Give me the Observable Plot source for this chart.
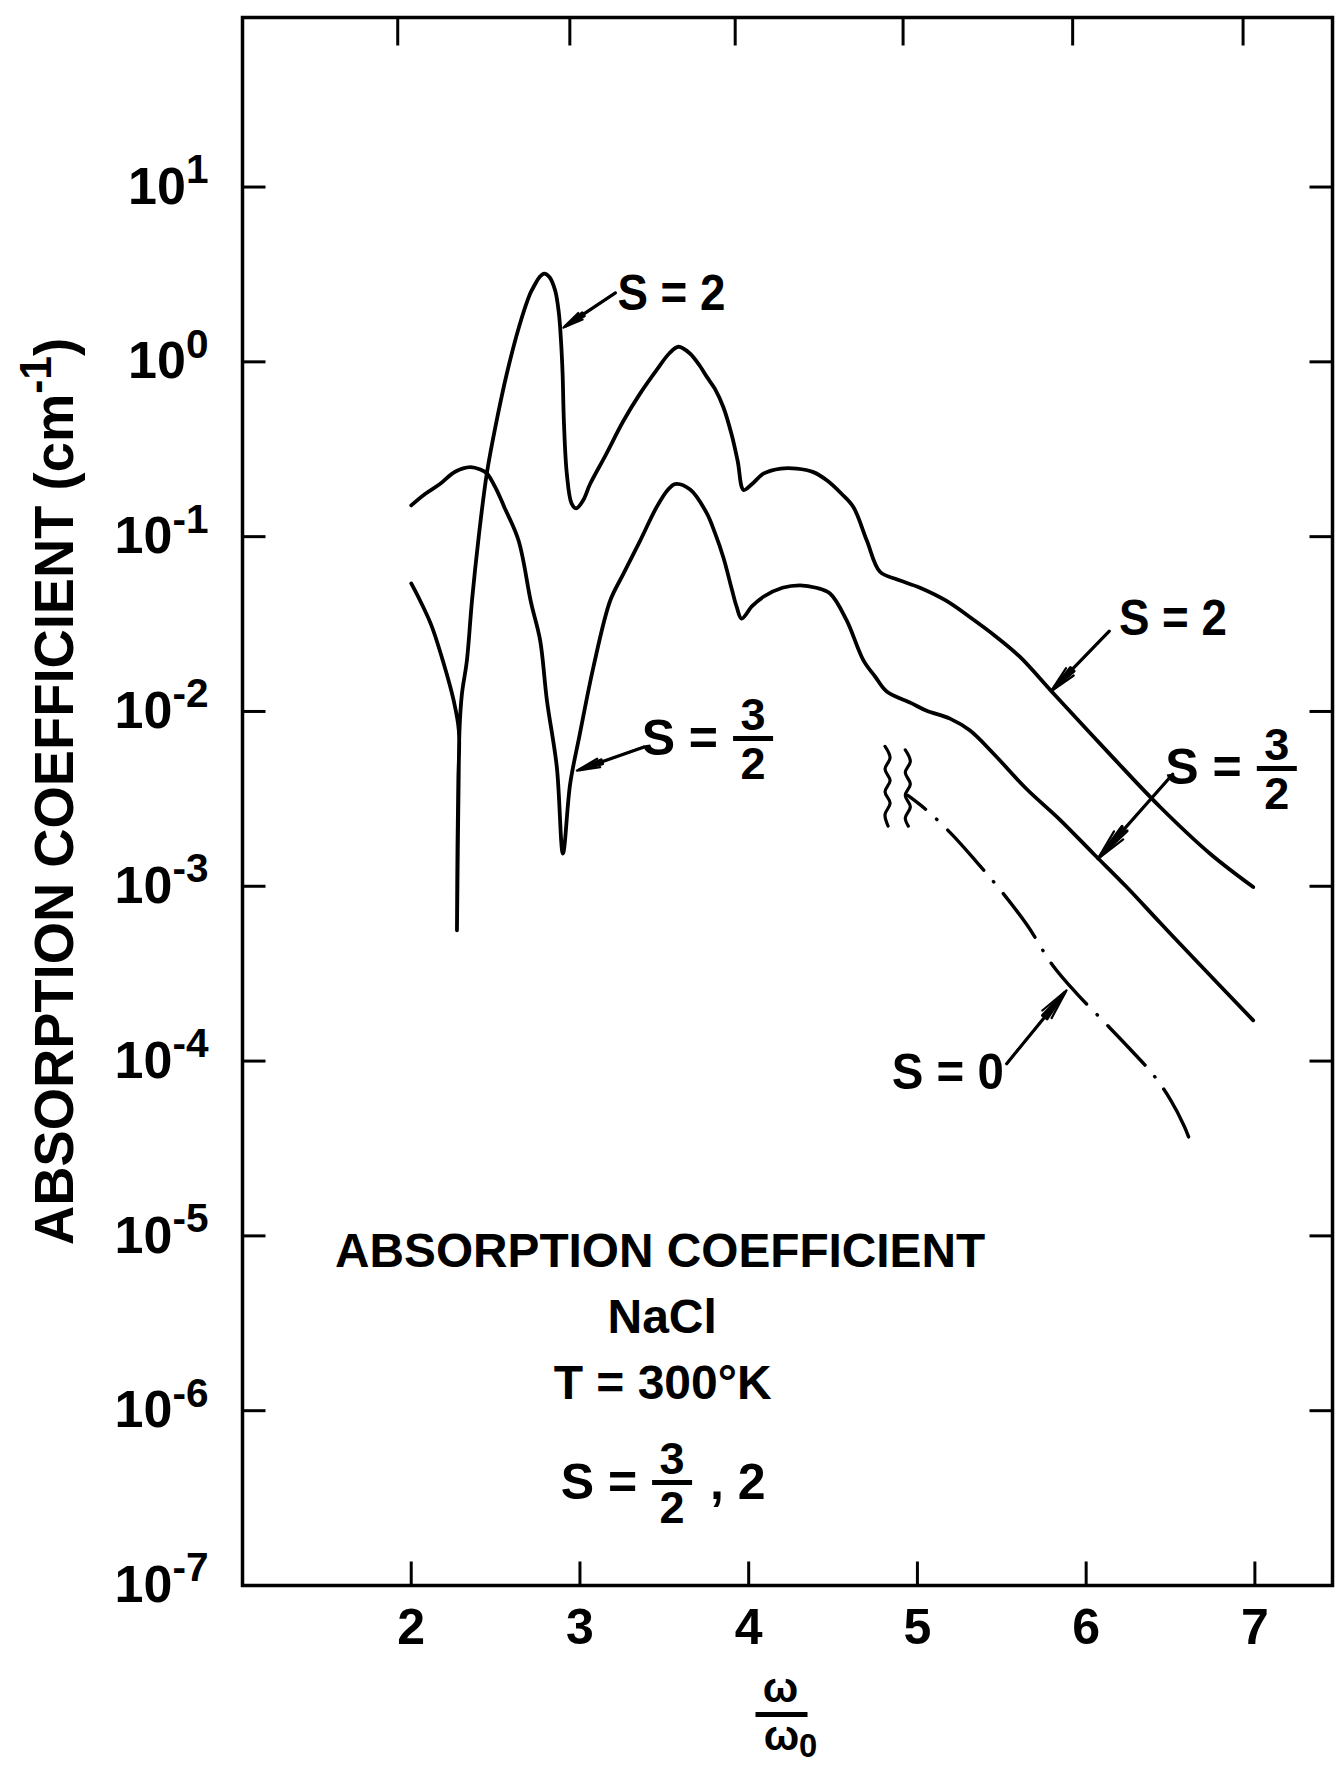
<!DOCTYPE html>
<html>
<head>
<meta charset="utf-8">
<script src="https://cdn.jsdelivr.net/npm/d3@7"></script>
<script src="https://cdn.jsdelivr.net/npm/@observablehq/plot@0.6"></script>
<style>
  html, body { margin: 0; padding: 0; background: #fff; }
  #chart svg { display: block; }
</style>
</head>
<body>
<div id="chart"></div>
<script>
// ---------------- data ----------------
// S = 2 curve: [omega/omega0, absorption coefficient (cm^-1)]
const seriesS2 = [
  [2.00, 0.054], [2.053, 0.043], [2.12, 0.031], [2.191, 0.019], [2.251, 0.0116],
  [2.282, 0.0078], [2.279, 0.004], [2.274, 0.0016], [2.271, 0.00056], [2.276, 0.0016],
  [2.281, 0.004], [2.286, 0.0078], [2.30, 0.0125], [2.33, 0.0196], [2.36, 0.043],
  [2.40, 0.10], [2.448, 0.23], [2.50, 0.43], [2.567, 0.86], [2.64, 1.6],
  [2.705, 2.46], [2.725, 2.68], [2.76, 3.05], [2.788, 3.2], [2.82, 3.05],
  [2.853, 2.56], [2.875, 1.9], [2.888, 1.3], [2.897, 0.86], [2.905, 0.45],
  [2.922, 0.23], [2.95, 0.155], [2.977, 0.145], [3.02, 0.162], [3.06, 0.20],
  [3.15, 0.29], [3.258, 0.46], [3.357, 0.66], [3.455, 0.90], [3.53, 1.12],
  [3.584, 1.22], [3.65, 1.12], [3.71, 0.95], [3.752, 0.82], [3.80, 0.70],
  [3.85, 0.55], [3.90, 0.38], [3.935, 0.27], [3.97, 0.185], [4.02, 0.20],
  [4.09, 0.23], [4.19, 0.245], [4.285, 0.245], [4.383, 0.234], [4.463, 0.21],
  [4.55, 0.176], [4.62, 0.148], [4.70, 0.095], [4.778, 0.063], [4.877, 0.057],
  [5.015, 0.051], [5.17, 0.043], [5.31, 0.0347], [5.47, 0.0266], [5.608, 0.0205],
  [5.805, 0.0127], [6.14, 0.0057], [6.437, 0.00285], [6.733, 0.00154], [6.99, 0.00099]
];
// S = 3/2 curve
const seriesS32 = [
  [2.00, 0.151], [2.08, 0.175], [2.17, 0.20], [2.26, 0.235], [2.35, 0.25],
  [2.41, 0.242], [2.448, 0.23], [2.50, 0.19], [2.551, 0.148], [2.636, 0.095],
  [2.71, 0.042], [2.764, 0.0255], [2.804, 0.0116], [2.863, 0.0048], [2.899, 0.00154],
  [2.942, 0.00386], [3.0, 0.0075], [3.08, 0.018], [3.179, 0.043], [3.258, 0.0614],
  [3.357, 0.095], [3.455, 0.148], [3.52, 0.185], [3.564, 0.20], [3.653, 0.186],
  [3.752, 0.136], [3.80, 0.105], [3.85, 0.076], [3.90, 0.05], [3.929, 0.0396],
  [3.958, 0.034], [4.02, 0.040], [4.087, 0.0453], [4.20, 0.051], [4.305, 0.0527],
  [4.40, 0.051], [4.482, 0.0473], [4.58, 0.0333], [4.68, 0.0196], [4.75, 0.0158],
  [4.818, 0.013], [4.96, 0.0112], [5.055, 0.0101], [5.193, 0.0091], [5.31, 0.0078],
  [5.45, 0.00575], [5.647, 0.0036], [5.845, 0.0024], [6.042, 0.00154], [6.24, 0.00099],
  [6.437, 0.00062], [6.635, 0.00039], [6.99, 0.000171]
];
// S = 0 curve (dash-dot)
const seriesS0 = [
  [4.945, 0.0033], [5.05, 0.00275], [5.20, 0.0020], [5.35, 0.00138], [5.50, 0.00093],
  [5.65, 0.00060], [5.80, 0.000355], [5.95, 0.00024], [6.10, 0.00017], [6.25, 0.00012],
  [6.40, 0.000083], [6.50, 0.000060], [6.58, 0.0000427], [6.625, 0.0000331]
];
// break symbol (two wavy strokes) at the start of S = 0
const breakLeft = [
  [4.808, 0.00631], [4.838, 0.00543], [4.808, 0.00468], [4.838, 0.00403],
  [4.808, 0.00347], [4.838, 0.00299], [4.808, 0.00257], [4.826, 0.00221]
];
const breakRight = [
  [4.928, 0.00603], [4.958, 0.00519], [4.928, 0.00447], [4.958, 0.00385],
  [4.928, 0.00331], [4.958, 0.00285], [4.928, 0.00246], [4.946, 0.00221]
];

// axes
const xDomain = [1, 7.46];
const yDomain = [1e-7, 93.3];
const xTickValues = [2, 3, 4, 5, 6, 7];
const topTickValues = [1.92, 2.94, 3.92, 4.915, 5.92, 6.93];
const yTickValues = [1e1, 1e0, 1e-1, 1e-2, 1e-3, 1e-4, 1e-5, 1e-6, 1e-7];
const yFrameTickValues = [1e1, 1e0, 1e-1, 1e-2, 1e-3, 1e-4, 1e-5, 1e-6];

// texts
const yTitle = "ABSORPTION COEFFICIENT (cm^{-1})";
const xTitleNum = "ω";
const xTitleDen = "ω_{0}";
const curveLabels = [
  {x: 3.222, y: 2.46, text: "S = 2"},
  {x: 6.194, y: 0.034, text: "S = 2"},
  {x: 4.848, y: 8.5e-5, text: "S = 0"}
];
const fractionLabels = [
  {x: 4.026, y: 7.0e-3, lead: "S =", num: "3", den: "2", tail: ""},
  {x: 7.13, y: 4.72e-3, lead: "S =", num: "3", den: "2", tail: ""},
  {x: 3.546, y: 3.88e-7, lead: "S =", num: "3", den: "2", tail: ", 2"}
];
const infoLines = [
  {x: 3.475, y: 8.15e-6, text: "ABSORPTION COEFFICIENT"},
  {x: 3.487, y: 3.41e-6, text: "NaCl"},
  {x: 3.49, y: 1.43e-6, text: "T = 300°K"}
];
const pointerArrows = [
  {x1: 3.21, y1: 2.48, x2: 2.902, y2: 1.57},
  {x1: 3.376, y1: 6.25e-3, x2: 2.982, y2: 4.59e-3},
  {x1: 6.137, y1: 0.0288, x2: 5.79, y2: 0.0130},
  {x1: 6.513, y1: 4.37e-3, x2: 6.068, y2: 1.43e-3},
  {x1: 5.529, y1: 9.66e-5, x2: 5.884, y2: 2.54e-4}
];

// ---------------- drawing ----------------
const toXY = (arr) => arr.map(([x, y]) => ({x, y}));
const FONT = "'Liberation Sans', Arial, Helvetica, sans-serif";
const INK = "#000";
const LINE = {draw(ctx, l) { ctx.moveTo(0, 0); ctx.lineTo(0, -l); }};
const xMin = xDomain[0], xMax = xDomain[1], yMin = yDomain[0], yMax = yDomain[1];

function fractionMarks(data) {
  const common = {x: "x", y: "y", fill: INK, lineAnchor: "middle"};
  return [
    Plot.text(data, {...common, text: "lead", textAnchor: "end", dx: -35, fontSize: 50}),
    Plot.text(data, {...common, text: "num", textAnchor: "middle", dy: -23, fontSize: 45}),
    Plot.text(data, {...common, text: "den", textAnchor: "middle", dy: 26, fontSize: 45}),
    Plot.vector(data, {x: "x", y: "y", length: 40, rotate: 90, anchor: "middle", shape: LINE,
      stroke: INK, strokeWidth: 5, strokeLinecap: "butt"}),
    Plot.text(data.filter(d => d.tail), {...common, text: "tail", textAnchor: "start", dx: 38, fontSize: 50})
  ];
}

const chart = Plot.plot({
  width: 1336,
  height: 1769,
  marginLeft: 242,
  marginRight: 4,
  marginTop: 17,
  marginBottom: 184,
  style: {fontFamily: FONT, fontWeight: "bold", background: "#fff", color: INK},
  x: {domain: xDomain, label: null},
  y: {type: "log", domain: yDomain, label: null},
  marks: [
    Plot.frame({stroke: INK, strokeWidth: 3.5}),
    // inward ticks on all four sides
    Plot.vector(xTickValues, {x: d => d, y: () => yMin, length: 24, rotate: 0, anchor: "start",
      shape: LINE, stroke: INK, strokeWidth: 3, strokeLinecap: "butt"}),
    Plot.vector(topTickValues, {x: d => d, y: () => yMax, length: 28, rotate: 180, anchor: "start",
      shape: LINE, stroke: INK, strokeWidth: 3, strokeLinecap: "butt"}),
    Plot.vector(yFrameTickValues, {x: () => xMin, y: d => d, length: 23, rotate: 90, anchor: "start",
      shape: LINE, stroke: INK, strokeWidth: 3, strokeLinecap: "butt"}),
    Plot.vector(yFrameTickValues, {x: () => xMax, y: d => d, length: 23, rotate: -90, anchor: "start",
      shape: LINE, stroke: INK, strokeWidth: 3, strokeLinecap: "butt"}),
    // tick labels
    Plot.axisX(xTickValues, {anchor: "bottom", tickSize: 0, tickPadding: 23, fontSize: 50,
      fontWeight: "bold", label: null, tickFormat: d => String(d)}),
    Plot.axisY(yTickValues, {anchor: "left", tickSize: 0, tickPadding: 34, fontSize: 52,
      fontWeight: "bold", label: null, tickFormat: d => `10^{${Math.round(Math.log10(d))}}`}),
    // curves
    Plot.line(toXY(seriesS32), {x: "x", y: "y", curve: "catmull-rom", stroke: INK, strokeWidth: 3.8}),
    Plot.line(toXY(seriesS2), {x: "x", y: "y", curve: "catmull-rom", stroke: INK, strokeWidth: 3.8}),
    Plot.line(toXY(seriesS0), {x: "x", y: "y", curve: "catmull-rom", stroke: INK, strokeWidth: 3.4,
      strokeDasharray: "54 15 0.5 15", strokeDashoffset: 32, strokeLinecap: "round"}),
    Plot.line(toXY(breakLeft), {x: "x", y: "y", curve: "catmull-rom", stroke: INK, strokeWidth: 3.2}),
    Plot.line(toXY(breakRight), {x: "x", y: "y", curve: "catmull-rom", stroke: INK, strokeWidth: 3.2}),
    // pointer arrows
    Plot.arrow(pointerArrows, {x1: "x1", y1: "y1", x2: "x2", y2: "y2", stroke: INK, strokeWidth: 2.2,
      headLength: 22, headAngle: 22}),
    Plot.arrow(pointerArrows, {x1: "x1", y1: "y1", x2: "x2", y2: "y2", stroke: INK, strokeWidth: 3.2,
      headLength: 18, headAngle: 10, insetEnd: 3}),
    // curve labels
    Plot.text(curveLabels, {x: "x", y: "y", text: "text", textAnchor: "start", lineAnchor: "middle",
      fontSize: 50, fill: INK}),
    ...fractionMarks(fractionLabels),
    // info block
    Plot.text(infoLines, {x: "x", y: "y", text: "text", textAnchor: "middle", lineAnchor: "middle",
      fontSize: 48, fill: INK}),
    // axis titles
    Plot.text([yTitle], {text: d => d, frameAnchor: "left", dx: -187, dy: -10, rotate: -90,
      lineAnchor: "middle", textAnchor: "middle", fontSize: 56, fill: INK}),
    Plot.text([xTitleNum], {text: d => d, frameAnchor: "bottom", dx: -7, dy: 103, lineAnchor: "middle",
      fontSize: 42, fill: INK}),
    Plot.vector([0], {frameAnchor: "bottom", dx: -6, dy: 129, length: 52, rotate: 90, anchor: "middle",
      shape: LINE, stroke: INK, strokeWidth: 5, strokeLinecap: "butt"}),
    Plot.text([xTitleDen], {text: d => d, frameAnchor: "bottom", dx: 3, dy: 151, lineAnchor: "middle",
      fontSize: 42, fill: INK})
  ]
});

document.getElementById("chart").appendChild(chart);

// compress the lettering like the hand-lettered original
const fitWidths = new Map([
  ["ABSORPTION COEFFICIENT", 650],
  [yTitle, 907],
  ["S = 2", 108],
  ["S = 0", 112]
]);
d3.select(chart).selectAll("text").each(function () {
  const w = fitWidths.get(this.textContent);
  if (w) {
    this.setAttribute("textLength", w);
    this.setAttribute("lengthAdjust", "spacingAndGlyphs");
  }
});

// turn ^{..} and _{..} into real superscripts / subscripts
const SVGNS = "http://www.w3.org/2000/svg";
d3.select(chart).selectAll("text").each(function () {
  const t = this.textContent;
  if (!/[\^_]\{/.test(t)) return;
  const fs = parseFloat(getComputedStyle(this).fontSize) || 40;
  const parts = t.split(/([\^_]\{[^}]*\})/).filter(s => s.length);
  this.textContent = "";
  let shift = 0;
  for (const p of parts) {
    const m = p.match(/^([\^_])\{([^}]*)\}$/);
    const ts = document.createElementNS(SVGNS, "tspan");
    if (m) {
      const target = m[1] === "^" ? -0.4 * fs : 0.17 * fs;
      ts.setAttribute("dy", target - shift);
      ts.setAttribute("font-size", (0.78 * fs).toFixed(1));
      shift = target;
      ts.textContent = m[2];
    } else {
      ts.setAttribute("dy", -shift);
      shift = 0;
      ts.textContent = p;
    }
    this.appendChild(ts);
  }
});
</script>
</body>
</html>
